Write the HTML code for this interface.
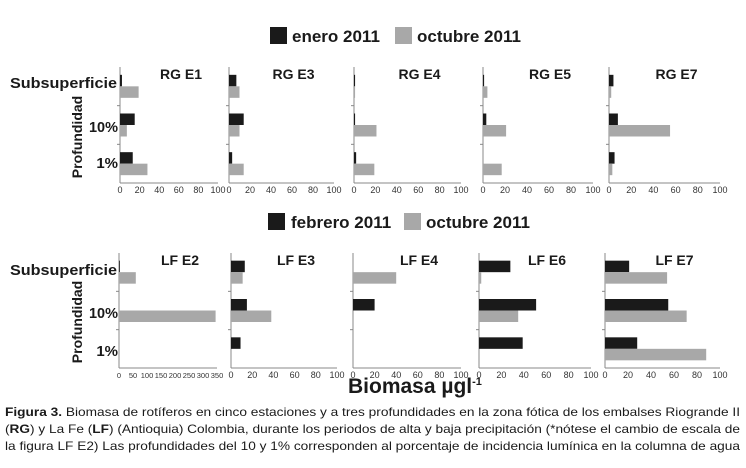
<!DOCTYPE html>
<html><head><meta charset="utf-8"><style>
html,body{margin:0;padding:0;background:#fff;}
svg{display:block;font-family:"Liberation Sans",sans-serif;}
</style></head><body>
<svg id="c" width="746" height="468" viewBox="0 0 746 468">
<g>
<rect x="270" y="27" width="17" height="17" fill="#1a1a1a"/>
<text x="292" y="42" font-size="17" font-weight="bold" fill="#1a1a1a">enero 2011</text>
<rect x="395" y="27" width="17" height="17" fill="#a8a8a8"/>
<text x="417" y="42" font-size="17" font-weight="bold" fill="#1a1a1a">octubre 2011</text>
</g>
<g>
<rect x="268" y="213" width="17" height="17" fill="#1a1a1a"/>
<text x="291" y="228" font-size="17" font-weight="bold" fill="#1a1a1a">febrero 2011</text>
<rect x="404" y="213" width="17" height="17" fill="#a8a8a8"/>
<text x="426" y="228" font-size="17" font-weight="bold" fill="#1a1a1a">octubre 2011</text>
</g>
<g font-weight="bold" fill="#1a1a1a">
<text x="10" y="88" font-size="15" textLength="107" lengthAdjust="spacingAndGlyphs">Subsuperficie</text>
<text x="118" y="132" font-size="15" text-anchor="end" textLength="29" lengthAdjust="spacingAndGlyphs">10%</text>
<text x="118" y="168" font-size="15" text-anchor="end">1%</text>
<text transform="translate(82,137) rotate(-90)" text-anchor="middle" font-size="14">Profundidad</text>
<text x="10" y="275" font-size="15" textLength="107" lengthAdjust="spacingAndGlyphs">Subsuperficie</text>
<text x="118" y="318" font-size="15" text-anchor="end" textLength="29" lengthAdjust="spacingAndGlyphs">10%</text>
<text x="118" y="356" font-size="15" text-anchor="end">1%</text>
<text transform="translate(82,322) rotate(-90)" text-anchor="middle" font-size="14">Profundidad</text>
<text x="348" y="393" font-size="21">Biomasa µgl<tspan dy="-8" font-size="11">-1</tspan></text>
</g>
<g font-size="12" fill="#1a1a1a">
<text x="5" y="416" textLength="735" lengthAdjust="spacingAndGlyphs"><tspan font-weight="bold">Figura 3.</tspan> Biomasa de rotíferos en cinco estaciones y a tres profundidades en la zona fótica de los embalses Riogrande II</text>
<text x="5" y="433" textLength="735" lengthAdjust="spacingAndGlyphs">(<tspan font-weight="bold">RG</tspan>) y La Fe (<tspan font-weight="bold">LF</tspan>) (Antioquia) Colombia, durante los periodos de alta y baja precipitación (*nótese el cambio de escala de</text>
<text x="5" y="450" textLength="735" lengthAdjust="spacingAndGlyphs">la figura LF E2) Las profundidades del 10 y 1% corresponden al porcentaje de incidencia lumínica en la columna de agua</text>
</g>
<g id="panels"></g>
</svg>
<script>
// Data
const categories = ["Subsuperficie","10%","1%"];
const stationsTop = ["RG E1","RG E3","RG E4","RG E5","RG E7"];
const stationsBottom = ["LF E2","LF E3","LF E4","LF E6","LF E7"];
const eneroValues = [[2,15,13],[7,14,3],[1,1,2],[1,3,0],[4,8,5]];
const octubreTopValues = [[19,7,28],[10,10,14],[1,21,19],[4,21,17],[2,55,3]];
const febreroValues = [[3,0,0],[13,15,9],[0,20,0],[28,51,39],[21,55,28]];
const octubreBottomValues = [[60,345,0],[11,38,0],[40,0,0],[2,35,0],[54,71,88]];
const ticksStd = [0,20,40,60,80,100];
const ticksE2 = [0,50,100,150,200,250,300,350];

const NS="http://www.w3.org/2000/svg";
const root=document.getElementById('panels');
function mk(tag,attrs,parent){const e=document.createElementNS(NS,tag);for(const k in attrs)e.setAttribute(k,attrs[k]);(parent||root).appendChild(e);return e;}

function panel(name,x0,x1,maxV,ticks,y0,y1,s1,s2,titleX,idx){
  const g=mk('g',{});
  
  
  const xs=v=>x0+(v/maxV)*(x1-x0);
  const band=(y1-y0)/categories.length;
  const t=mk('text',{x:titleX,y:y0+12,'font-size':14,'font-weight':'bold',fill:'#1a1a1a','text-anchor':'middle'},g);
  t.textContent=name;
  
  
  const ax=mk('line',{x1:x0,y1:y0,x2:x0,y2:y1,stroke:'#888','stroke-width':1},g);
  
  
  const bx=mk('line',{x1:x0,y1:y1,x2:x1,y2:y1,stroke:'#888','stroke-width':1},g);
  
  
  for(let i=1;i<categories.length;i++){
    mk('line',{x1:x0-3,y1:y0+band*i,x2:x0,y2:y0+band*i,stroke:'#888'},g);
  }
  ticks.forEach(v=>{
    const tl=mk('text',{x:xs(v),y:y1+10,'font-size':ticks.length>6?7.5:9,fill:'#333','text-anchor':'middle'},g);
    tl.textContent=v;
    
    
  });
  categories.forEach((c,i)=>{
    const top=y0+band*i+(band-23)/2;
    const a=s1[idx][i], b=s2[idx][i];
    if(a>0){const r=mk('rect',{x:x0,y:top,width:xs(a)-x0,height:11.5,fill:'#1a1a1a'},g);
      
      }
    if(b>0){const r=mk('rect',{x:x0,y:top+11.5,width:xs(b)-x0,height:11.5,fill:'#a8a8a8'},g);
      
      }
  });
}
const topX=[[120,218],[229,334],[354,461],[483,593],[609,720]];
const botX=[[119,217],[231,337],[353,461],[479,591],[605,720]];
stationsTop.forEach((s,i)=>panel(s,topX[i][0],topX[i][1],100,ticksStd,67,183,eneroValues,octubreTopValues,(topX[i][0]+topX[i][1])/2+12,i));
stationsBottom.forEach((s,i)=>panel(s,botX[i][0],botX[i][1],i===0?350:100,i===0?ticksE2:ticksStd,253,368,febreroValues,octubreBottomValues,(botX[i][0]+botX[i][1])/2+12,i));
</script>
</body></html>
